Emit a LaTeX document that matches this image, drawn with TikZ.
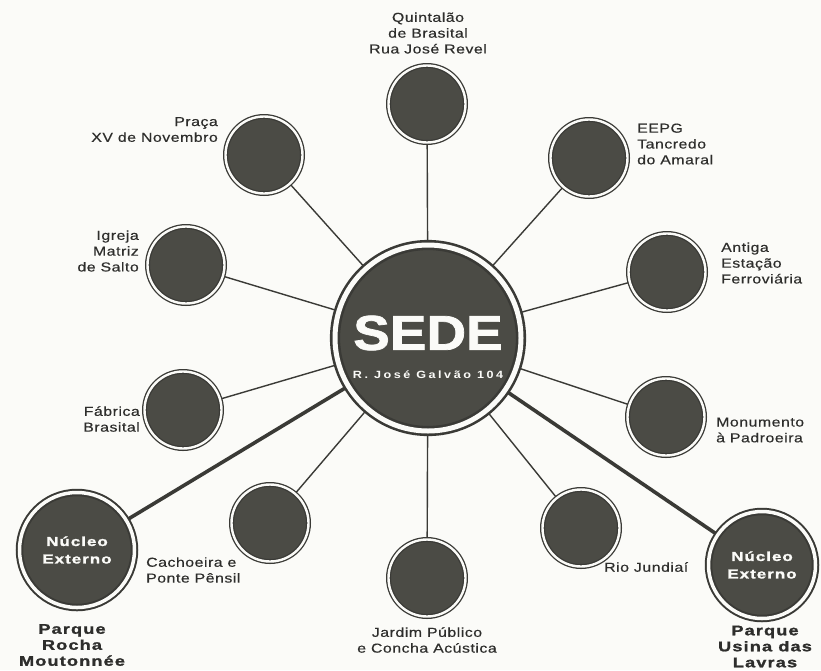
\documentclass[tikz,border=0pt]{standalone}
\usepackage{fontspec}
\setmainfont{Liberation Sans}
\newfontfamily\labfont[FakeStretch=1.22,LetterSpace=4,FakeBold=0.4]{Liberation Sans}
\newfontfamily\heavyfont[FakeStretch=1.3,LetterSpace=8,FakeBold=1.4]{Liberation Sans}
\newfontfamily\sedefont[FakeStretch=1.12,FakeBold=1.5]{Liberation Sans}
\newfontfamily\addrfont[FakeStretch=1.2,LetterSpace=24]{Liberation Sans}
\usetikzlibrary{backgrounds}
\definecolor{bg}{HTML}{FBFBF8}
\definecolor{disk}{HTML}{4B4B45}
\definecolor{ink}{HTML}{3A3A36}
\definecolor{txt}{HTML}{2E2E2C}
\tikzset{
  spot/.style={circle, inner sep=0pt, minimum size=77pt, fill=disk, draw=ink,
    line width=1.3pt, double=bg, double distance=2.4pt},
  hub/.style={circle, inner sep=0pt, minimum size=186pt, fill=disk, draw=ink,
    line width=2.6pt, double=bg, double distance=5pt},
  nucleus/.style={circle, inner sep=0pt, minimum size=#1, fill=disk, draw=ink,
    line width=2pt, double=bg, double distance=3.5pt, text=bg, align=center,
    font=\heavyfont\bfseries\fontsize{13}{17.5}\selectfont},
  lab/.style={inner sep=0pt, text=txt, font=\labfont\fontsize{13}{15.8}\selectfont},
  boldlab/.style={inner sep=0pt, text=txt, align=center,
    font=\heavyfont\bfseries\fontsize{14}{16}\selectfont},
  thin link/.style={draw=ink, line width=1.4pt},
  thick link/.style={draw=ink, line width=3.6pt},
}
\begin{document}
\begin{tikzpicture}[x=1pt,y=-1pt]
\useasboundingbox (0,0) rectangle (821,670);

% hub and satellites
\node[hub] (sede) at (428,338) {};
\node[spot] (quint) at (427,104) {};
\node[spot] (praca) at (264,155) {};
\node[spot] (eepg) at (589,158) {};
\node[spot] (igreja) at (186,265) {};
\node[spot] (antiga) at (667,272) {};
\node[spot] (fabrica) at (183,410) {};
\node[spot] (monum) at (666,417) {};
\node[spot] (cach) at (270,523) {};
\node[spot] (jardim) at (427,578) {};
\node[spot] (rio) at (581,528) {};
\node[nucleus=115pt] (nucL) at (77,550) {Núcleo\\Externo};
\node[nucleus=107pt] (nucR) at (762,565) {Núcleo\\Externo};

% hub texts
\node[inner sep=0pt, text=bg, font=\sedefont\bfseries\fontsize{49}{50}\selectfont] (sedetxt) at (428,333) {SEDE};
\node[inner sep=0pt, text=bg, font=\addrfont\bfseries\fontsize{10.5}{12}\selectfont] (addr) at (428,375) {R. José Galvão 104};

% background and connectors
\begin{scope}[on background layer]
\fill[bg] (0,0) rectangle (821,670);
\foreach \n in {quint,praca,eepg,igreja,antiga,fabrica,monum,cach,jardim,rio}
  \draw[thin link] (sede.center) -- (\n.center);
\draw[thick link] (sede.center) -- (nucL.center);
\draw[thick link] (sede.center) -- (nucR.center);
\end{scope}

% labels
\node[lab, align=center] (tquint) at (428,33) {Quintalão\\de Brasital\\Rua José Revel};
\node[lab, align=right, anchor=east] (tpraca) at (218,129.5) {Praça\\XV de Novembro};
\node[lab, align=right, anchor=east] (tigreja) at (139,251) {Igreja\\Matriz\\de Salto};
\node[lab, align=left, anchor=west] (teepg) at (637,144) {EEPG\\Tancredo\\do Amaral};
\node[lab, align=left, anchor=west] (tantiga) at (721,263) {Antiga\\Estação\\Ferroviária};
\node[lab, align=right, anchor=east] (tfabrica) at (140,419) {Fábrica\\Brasital};
\node[lab, align=left, anchor=west] (tmonum) at (716,430) {Monumento\\à Padroeira};
\node[lab, align=left, anchor=west] (tcach) at (146,570) {Cachoeira e\\Ponte Pênsil};
\node[lab, align=center] (tjardim) at (427,640) {Jardim Público\\e Concha Acústica};
\node[lab, anchor=west] (trio) at (604,567) {Rio Jundiaí};
\node[boldlab] (tnucL) at (72,645) {Parque\\Rocha\\Moutonnée};
\node[boldlab] (tnucR) at (765,646.5) {Parque\\Usina das\\Lavras};
\end{tikzpicture}
\end{document}
